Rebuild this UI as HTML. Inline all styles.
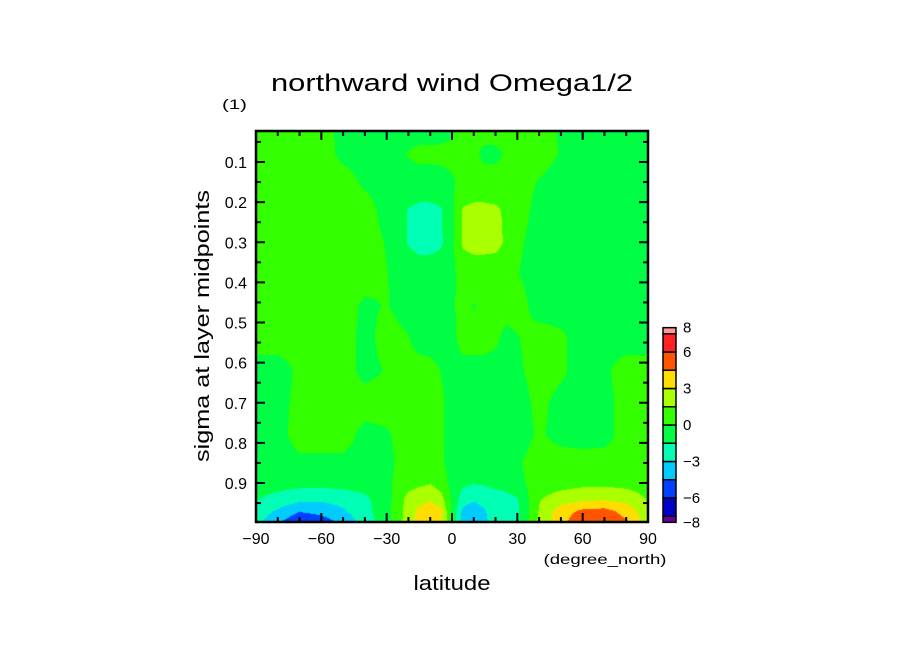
<!DOCTYPE html>
<html><head><meta charset="utf-8"><style>
html,body{margin:0;padding:0;background:#fff;}
#wrap{position:relative;width:904px;height:654px;overflow:hidden;}
svg{position:absolute;left:0;top:0;}
canvas{position:absolute;left:256px;top:131px;}
</style></head><body>
<div id="wrap">
<canvas id="cv" width="392" height="391"></canvas>
<svg id="sv" width="904" height="654" xmlns="http://www.w3.org/2000/svg">
<text x="452" y="91" font-family="Liberation Sans, sans-serif" font-size="24" text-anchor="middle" textLength="362" lengthAdjust="spacingAndGlyphs">northward wind Omega1/2</text>
<text x="222" y="109" font-family="Liberation Sans, sans-serif" font-size="14" textLength="25" lengthAdjust="spacingAndGlyphs">(1)</text>
<text x="452" y="590" font-family="Liberation Sans, sans-serif" font-size="20" text-anchor="middle" textLength="77" lengthAdjust="spacingAndGlyphs">latitude</text>
<text x="605" y="564" font-family="Liberation Sans, sans-serif" font-size="14" text-anchor="middle" textLength="123" lengthAdjust="spacingAndGlyphs">(degree_north)</text>
<text x="0" y="0" transform="translate(209,326) rotate(-90)" font-family="Liberation Sans, sans-serif" font-size="20" text-anchor="middle" textLength="272" lengthAdjust="spacingAndGlyphs">sigma at layer midpoints</text>
<g id="axes"></g>
<g id="cbar"></g>
</svg>
</div>
<script>
// ---- data ----
const lats = [-90,-80,-70,-60,-50,-40,-30,-20,-15,-10,-5,0,5,10,15,20,25,30,40,50,60,70,80,90];
const sigmas = [0.02,0.08,0.15,0.22,0.30,0.38,0.46,0.54,0.62,0.70,0.78,0.85,0.90,0.94,0.97,0.995];
const values = [
[.7,.7,.7,.7,-.5,-.7,-.7,-.7,-.7,-.7,-.7,-.4,.7,.7,.7,.7,.7,.7,.7,-.2,-.7,-.7,-.7,-.7],
[.7,.7,.7,.7,-.4,-.7,-.7,.1,.4,.4,.5,.6,.7,.3,-.4,-.4,.2,.7,.7,-.1,-.7,-.7,-.7,-.7],
[.7,.7,.7,.7,.7,-.3,-.7,-.7,-.7,-.7,-.7,-.3,.7,.7,.7,.7,.7,.7,-.1,-.7,-.7,-.7,-.7,-.7],
[.7,.7,.7,.7,.7,.7,-.6,-1.55,-1.8,-1.8,-1.6,-.3,1.6,1.8,1.8,1.7,1.3,.7,-.5,-.7,-.7,-.7,-.7,-.7],
[.7,.7,.7,.7,.7,.7,-.1,-1.6,-2,-2,-1.7,-.3,1.7,2,2,1.9,1.3,.3,-.7,-.7,-.7,-.7,-.7,-.7],
[.7,.7,.7,.7,.7,.7,.05,-.7,-.7,-.7,-.7,-.4,.7,.7,.7,.7,.7,.05,-.7,-.7,-.7,-.7,-.7,-.7],
[.7,.7,.7,.7,.7,-.3,.1,-.7,-.7,-.7,-.7,-.3,.7,-.1,.5,.7,.7,.7,-.7,-.7,-.7,-.7,-.7,-.7],
[.7,.7,.7,.7,.7,-.5,.6,.1,-.7,-.7,-.7,-.5,.7,.7,.7,.3,-.5,-.1,.7,.3,-.7,-.7,-.7,-.7],
[-.7,-.7,.3,.7,.7,-.5,.1,.7,.7,.5,-.05,-.7,-.7,-.7,-.7,-.7,-.7,-.3,.7,.3,-.7,-.3,.7,.7],
[-.7,-.6,.5,.7,.7,.7,.7,.7,.7,.7,.3,-.7,-.7,-.7,-.7,-.7,-.7,-.7,.4,-.5,-.7,-.6,.7,.7],
[-.7,-.6,.7,.7,.7,-.5,-.2,.7,.7,.7,.3,-.7,-.7,-.7,-.7,-.7,-.7,-.7,.2,-.5,-.7,-.6,.7,.7],
[-.7,-.7,-.4,-.4,-.4,-.7,-.4,.7,.7,.7,.3,-.7,-.7,-.7,-.7,-.7,-.7,-.2,.7,.7,.7,.7,.7,.7],
[-.8,-.9,-1,-1,-.9,-.8,-.3,.9,1.2,1.4,.8,-.5,-1.2,-1.4,-1.3,-1.1,-.9,-.4,.7,.9,1.1,1.1,1,.8],
[-1.4,-2,-2.5,-2.7,-2.4,-1.8,-.6,2.0,2.4,2.8,2,-.3,-2.2,-2.8,-2.4,-2.1,-2,-1.6,1.4,2.2,2.6,2.8,2.4,1.4],
[-2,-3.2,-4.4,-4,-3.2,-2,-.5,2.2,3.4,3.9,3.3,-.3,-3.4,-3.8,-3.1,-2.4,-2.1,-1.8,1.6,3.8,4.8,5,4,2],
[-2.5,-4.2,-5.6,-5.2,-4,-2.3,-.6,2.3,3.7,4,3.3,-.3,-3.6,-4,-3.2,-2.5,-2.1,-1.8,1.8,4,5.6,5.6,4.6,2.2]
];
const levels = [-8,-7.5,-6,-4.5,-3,-1.5,0,1.5,3,4.5,6,7.5,8];
const levelColors = ["#660099","#0000c8","#0040ff","#00ccff","#00ffb4","#00ff44","#33ff00","#aaff00","#ffdd00","#ff5500","#ff2222","#ff9999"];
const xTicks = [-90,-60,-30,0,30,60,90];
const yTicks = [0.1,0.2,0.3,0.4,0.5,0.6,0.7,0.8,0.9];
const cbarLabels = [8,6,3,0,-3,-6,-8];

// ---- axes ----
const PX0=256, PX1=648, PY0=131, PY1=522;
const SIG0=0.0225, SIG1=0.9975;
function xs(lat){return PX0+(lat+90)/180*(PX1-PX0);}
function ys(s){return 162+(s-0.1)/0.8*(483-162);}
function latOf(px){return -90+(px-PX0)/(PX1-PX0)*180;}
function sigOf(py){return 0.1+(py-162)/(483-162)*0.8;}

function seg(arr,v){
  if(v<=arr[0]) return [0,0];
  if(v>=arr[arr.length-1]) return [arr.length-2,1];
  for(let i=0;i<arr.length-1;i++){ if(v<=arr[i+1]) return [i,(v-arr[i])/(arr[i+1]-arr[i])]; }
}
function valAt(lat,s){
  const [i,fx]=seg(lats,lat), [j,fy]=seg(sigmas,s);
  const a=values[j][i],b=values[j][i+1],c=values[j+1][i],d=values[j+1][i+1];
  return (a*(1-fx)+b*fx)*(1-fy)+(c*(1-fx)+d*fx)*fy;
}
function colorOf(v){
  for(let k=1;k<levels.length-1;k++){ if(v<levels[k]) return levelColors[k-1]; }
  return levelColors[levelColors.length-1];
}
function hex(c){return [parseInt(c.slice(1,3),16),parseInt(c.slice(3,5),16),parseInt(c.slice(5,7),16)];}

const cv=document.getElementById('cv'), ctx=cv.getContext('2d');
const W=cv.width,H=cv.height, img=ctx.createImageData(W,H);
for(let py=0;py<H;py++){
  const s=sigOf(PY0+py+0.5);
  for(let px=0;px<W;px++){
    const rgb=hex(colorOf(valAt(latOf(PX0+px+0.5),s)));
    const o=(py*W+px)*4; img.data[o]=rgb[0];img.data[o+1]=rgb[1];img.data[o+2]=rgb[2];img.data[o+3]=255;
  }
}
ctx.putImageData(img,0,0);

const NS='http://www.w3.org/2000/svg';
const axes=document.getElementById('axes');
function mk(tag,attrs,parent){const e=document.createElementNS(NS,tag);for(const k in attrs)e.setAttribute(k,attrs[k]);(parent||axes).appendChild(e);return e;}

const frame=mk('rect',{x:PX0,y:PY0,width:PX1-PX0,height:PY1-PY0,fill:'none',stroke:'#000','stroke-width':2.5});



for(let lat=-90;lat<=90;lat+=10){
  const x=xs(lat), major=xTicks.includes(lat), L=major?9:5;
  const t1=mk('line',{x1:x,y1:PY1,x2:x,y2:PY1-L,stroke:'#000','stroke-width':2});
  
  
  const t2=mk('line',{x1:x,y1:PY0,x2:x,y2:PY0+L,stroke:'#000','stroke-width':2});
  
  
}
xTicks.forEach(v=>{
  const t=mk('text',{x:xs(v),y:544,'font-family':'Liberation Sans, sans-serif','font-size':16,'text-anchor':'middle'});
  t.textContent=(v<0?'\u2212':'')+Math.abs(v);
  
  
});
for(let k=1;k<=19;k++){
  const s=k*0.05; if(s<SIG0||s>SIG1) continue;
  const y=ys(s), major=(k%2===0), L=major?9:5;
  const t1=mk('line',{x1:PX0,y1:y,x2:PX0+L,y2:y,stroke:'#000','stroke-width':2});
  
  
  const t2=mk('line',{x1:PX1,y1:y,x2:PX1-L,y2:y,stroke:'#000','stroke-width':2});
  
  
}
yTicks.forEach(v=>{
  const t=mk('text',{x:247,y:ys(v)+6,'font-family':'Liberation Sans, sans-serif','font-size':16,'text-anchor':'end'});
  t.textContent=v.toFixed(1);
  
  
});

// ---- colorbar ----
const cb=document.getElementById('cbar');
function cy(v){return 425-(v)*(425-352)/6;}
for(let k=0;k<levelColors.length;k++){
  const y0=cy(levels[k+1]), y1=cy(levels[k]);
  const r=mk('rect',{x:663,y:y0,width:13,height:y1-y0,fill:levelColors[k],stroke:'#000','stroke-width':1.5},cb);
  
  
}
cbarLabels.forEach(v=>{
  const t=mk('text',{x:683,y:cy(v)+5,'font-family':'Liberation Sans, sans-serif','font-size':15},cb);
  t.textContent=(v<0?'\u2212':'')+Math.abs(v);
  
  
});
</script>
</body></html>
